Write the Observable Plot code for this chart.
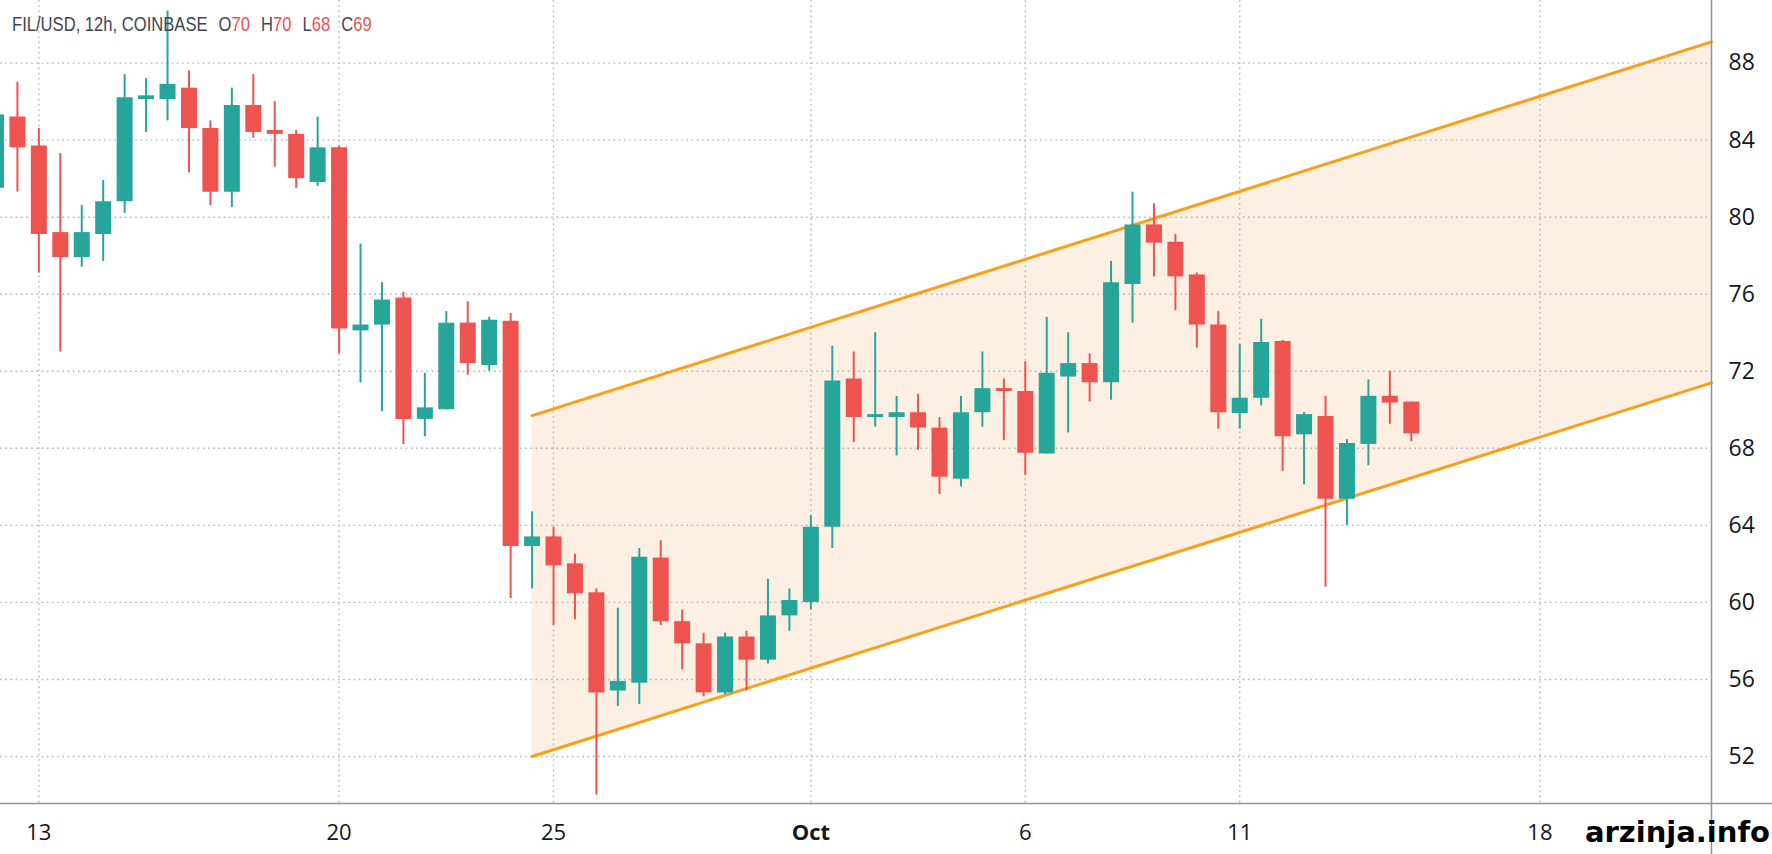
<!DOCTYPE html>
<html><head><meta charset="utf-8">
<script src="https://cdn.jsdelivr.net/npm/d3@7"></script>
<script src="https://cdn.jsdelivr.net/npm/@observablehq/plot@0.6"></script>
<style>
body{margin:0;background:#fff;}
#wrap{position:relative;width:1772px;height:854px;overflow:hidden;background:#fff;}
#wrap svg{position:absolute;left:0;top:0;}
#hdr{position:absolute;left:12px;top:14px;font:20px/20px "Liberation Sans",sans-serif;color:#434651;white-space:pre;z-index:2;transform:scaleX(0.83);transform-origin:0 0;}
#hdr .g{margin-left:13.3px;}
#hdr .v{color:#ef5350;}
#wm{position:absolute;right:2px;bottom:5px;font:bold 29px "DejaVu Sans",sans-serif;color:#000;z-index:2;}
</style></head><body>
<div id="wrap">
<div id="hdr">FIL/USD, 12h, COINBASE<span class="g">O<span class="v">70</span></span><span class="g">H<span class="v">70</span></span><span class="g">L<span class="v">68</span></span><span class="g">C<span class="v">69</span></span></div>
<div id="wm">arzinja.info</div>
</div>
<script>
// 12h candles, FIL/USD (Coinbase), Sep 12 – Oct 15 2021
const dates = [
"09-12 00","09-12 12","09-13 00","09-13 12","09-14 00","09-14 12","09-15 00","09-15 12",
"09-16 00","09-16 12","09-17 00","09-17 12","09-18 00","09-18 12","09-19 00","09-19 12",
"09-20 00","09-20 12","09-21 00","09-21 12","09-22 00","09-22 12","09-23 00","09-23 12",
"09-24 00","09-24 12","09-25 00","09-25 12","09-26 00","09-26 12","09-27 00","09-27 12",
"09-28 00","09-28 12","09-29 00","09-29 12","09-30 00","09-30 12",
"10-01 00","10-01 12","10-02 00","10-02 12","10-03 00","10-03 12","10-04 00","10-04 12",
"10-05 00","10-05 12","10-06 00","10-06 12","10-07 00","10-07 12","10-08 00","10-08 12",
"10-09 00","10-09 12","10-10 00","10-10 12","10-11 00","10-11 12","10-12 00","10-12 12",
"10-13 00","10-13 12","10-14 00","10-14 12","10-15 00"];
const open = [81.5,85.2,83.7,79.2,77.9,79.1,80.8,86.1,86.1,86.7,84.6,81.3,85.8,84.5,84.3,81.8,83.6,74.1,74.4,75.8,69.5,70.0,74.5,72.3,74.6,62.9,63.4,62.0,60.5,55.4,55.8,62.3,59.0,57.85,55.3,58.2,57.0,59.3,60.0,63.9,71.6,69.6,69.6,69.85,69.05,66.4,69.85,71.1,70.95,67.7,71.7,72.4,71.4,76.5,79.6,78.7,77.0,74.4,69.8,70.6,73.55,68.7,69.65,65.35,68.2,70.7,70.4];
const high = [85.7,87.0,84.6,83.3,80.6,81.9,87.4,87.2,90.7,87.6,85.0,86.7,87.4,86.0,84.5,85.2,83.7,78.6,76.6,76.1,71.9,75.1,75.6,74.8,75.0,64.7,63.9,62.5,60.7,59.7,62.8,63.2,59.6,58.4,58.4,58.5,61.2,60.7,64.5,73.3,73.0,74.0,70.7,70.8,69.6,70.7,73.0,71.6,72.5,74.8,74.0,72.9,77.7,81.3,80.7,79.1,77.1,75.1,73.4,74.7,73.6,69.85,70.7,68.45,71.55,72.0,70.4];
const low = [81.3,81.3,77.1,73.0,77.4,77.7,80.2,84.4,85.0,82.3,80.6,80.5,84.1,82.6,81.5,81.6,72.9,71.4,69.9,68.2,68.6,70.0,71.8,72.0,60.2,60.7,58.8,59.1,50.0,54.6,54.7,58.8,56.5,55.1,55.2,55.4,56.8,58.5,59.6,62.8,68.3,69.1,67.6,67.9,65.6,66.0,69.1,68.4,66.6,67.7,68.8,70.4,70.5,74.5,76.9,75.15,73.2,69.0,69.0,70.2,66.8,66.1,60.8,64.0,67.1,69.25,68.35];
const close = [85.3,83.6,79.1,77.9,79.2,80.8,86.2,86.3,86.9,84.6,81.3,85.8,84.4,84.3,82.0,83.6,74.2,74.4,75.7,69.5,70.1,74.5,72.4,74.65,62.9,63.4,61.9,60.45,55.3,55.9,62.35,59.0,57.85,55.3,58.2,57.0,59.3,60.1,63.9,71.5,69.6,69.75,69.85,69.05,66.5,69.85,71.1,70.95,67.75,71.9,72.4,71.4,76.6,79.6,78.65,76.9,74.4,69.85,70.6,73.5,68.6,69.75,65.35,68.25,70.7,70.35,68.75];

// ascending channel drawn on the chart
const channelDates = ["2021-09-24T12:00Z", "2021-10-22T00:00Z"];
const channelLow = [52.0, 71.4];
const channelHigh = [69.7, 89.1];

// axes
const xTickDates = ["2021-09-13","2021-09-20","2021-09-25","2021-10-01","2021-10-06","2021-10-11","2021-10-18"];
const xTickLabels = ["13","20","25","Oct","6","11","18"];
const yTicks = [52,56,60,64,68,72,76,80,84,88];
const xDomain = ["2021-09-12T02:32Z","2021-10-22T00:00Z"];
const yDomain = [49.56, 91.25];

const UP = "#26a69a", DOWN = "#ef5350";
const toDate = s => new Date(`2021-${s.slice(0,5)}T${s.slice(6)}:00Z`);
const candles = dates.map((d,i) => ({date: toDate(d), open: open[i], high: high[i], low: low[i], close: close[i]}));
const channel = channelDates.map((d,i) => ({date: new Date(d), low: channelLow[i], high: channelHigh[i]}));
const xTicks = xTickDates.map(d => new Date(d + "T00:00Z"));
const tickLabel = new Map(xTicks.map((d,i) => [+d, xTickLabels[i]]));
const color = d => d.close >= d.open ? UP : DOWN;

const chart = Plot.plot({
  width: 1772, height: 854,
  marginLeft: 0, marginRight: 61, marginTop: 0, marginBottom: 51,
  style: {fontFamily: "'Open Sans', sans-serif", fontSize: "22px", color: "#131722", background: "transparent"},
  x: {type: "utc", domain: xDomain.map(d => new Date(d)), ticks: xTicks, tickFormat: d => tickLabel.get(+d) ?? "", tickSize: 0, tickPadding: 21, label: null},
  y: {domain: yDomain, axis: "right", ticks: yTicks, tickSize: 0, tickPadding: 17, label: null},
  marks: [
    Plot.areaY(channel, {x: "date", y1: "low", y2: "high", fill: "#fdf0e2"}),
    Plot.ruleY(yTicks, {stroke: "#b0b4bc", strokeWidth: 1.4, strokeDasharray: "1.6,3.6"}),
    Plot.ruleX(xTicks, {stroke: "#b0b4bc", strokeWidth: 1.4, strokeDasharray: "1.6,3.6"}),
    Plot.lineY(channel, {x: "date", y: "low", stroke: "#f7a11a", strokeWidth: 3}),
    Plot.lineY(channel, {x: "date", y: "high", stroke: "#f7a11a", strokeWidth: 3}),
    Plot.ruleX(candles, {x: "date", y1: "low", y2: "high", stroke: color, strokeWidth: 2}),
    Plot.ruleX(candles, {x: "date", y1: "open", y2: "close", stroke: color, strokeWidth: 16}),
    Plot.ruleX([new Date(xDomain[1])], {stroke: "#8f949c", strokeWidth: 1.5, insetBottom: -51}),
    Plot.ruleY([yDomain[0]], {stroke: "#8f949c", strokeWidth: 1.5, insetRight: -61})
  ]
});
// month-start label bold, price labels slightly larger (TradingView style)
d3.select(chart).selectAll("text").each(function() {
  const t = this.textContent;
  if (t === "Oct") this.setAttribute("font-weight", "bold");
  if (yTicks.map(String).includes(t)) this.setAttribute("font-size", "23px");
});
document.getElementById("wrap").prepend(chart);
</script>
</body></html>
